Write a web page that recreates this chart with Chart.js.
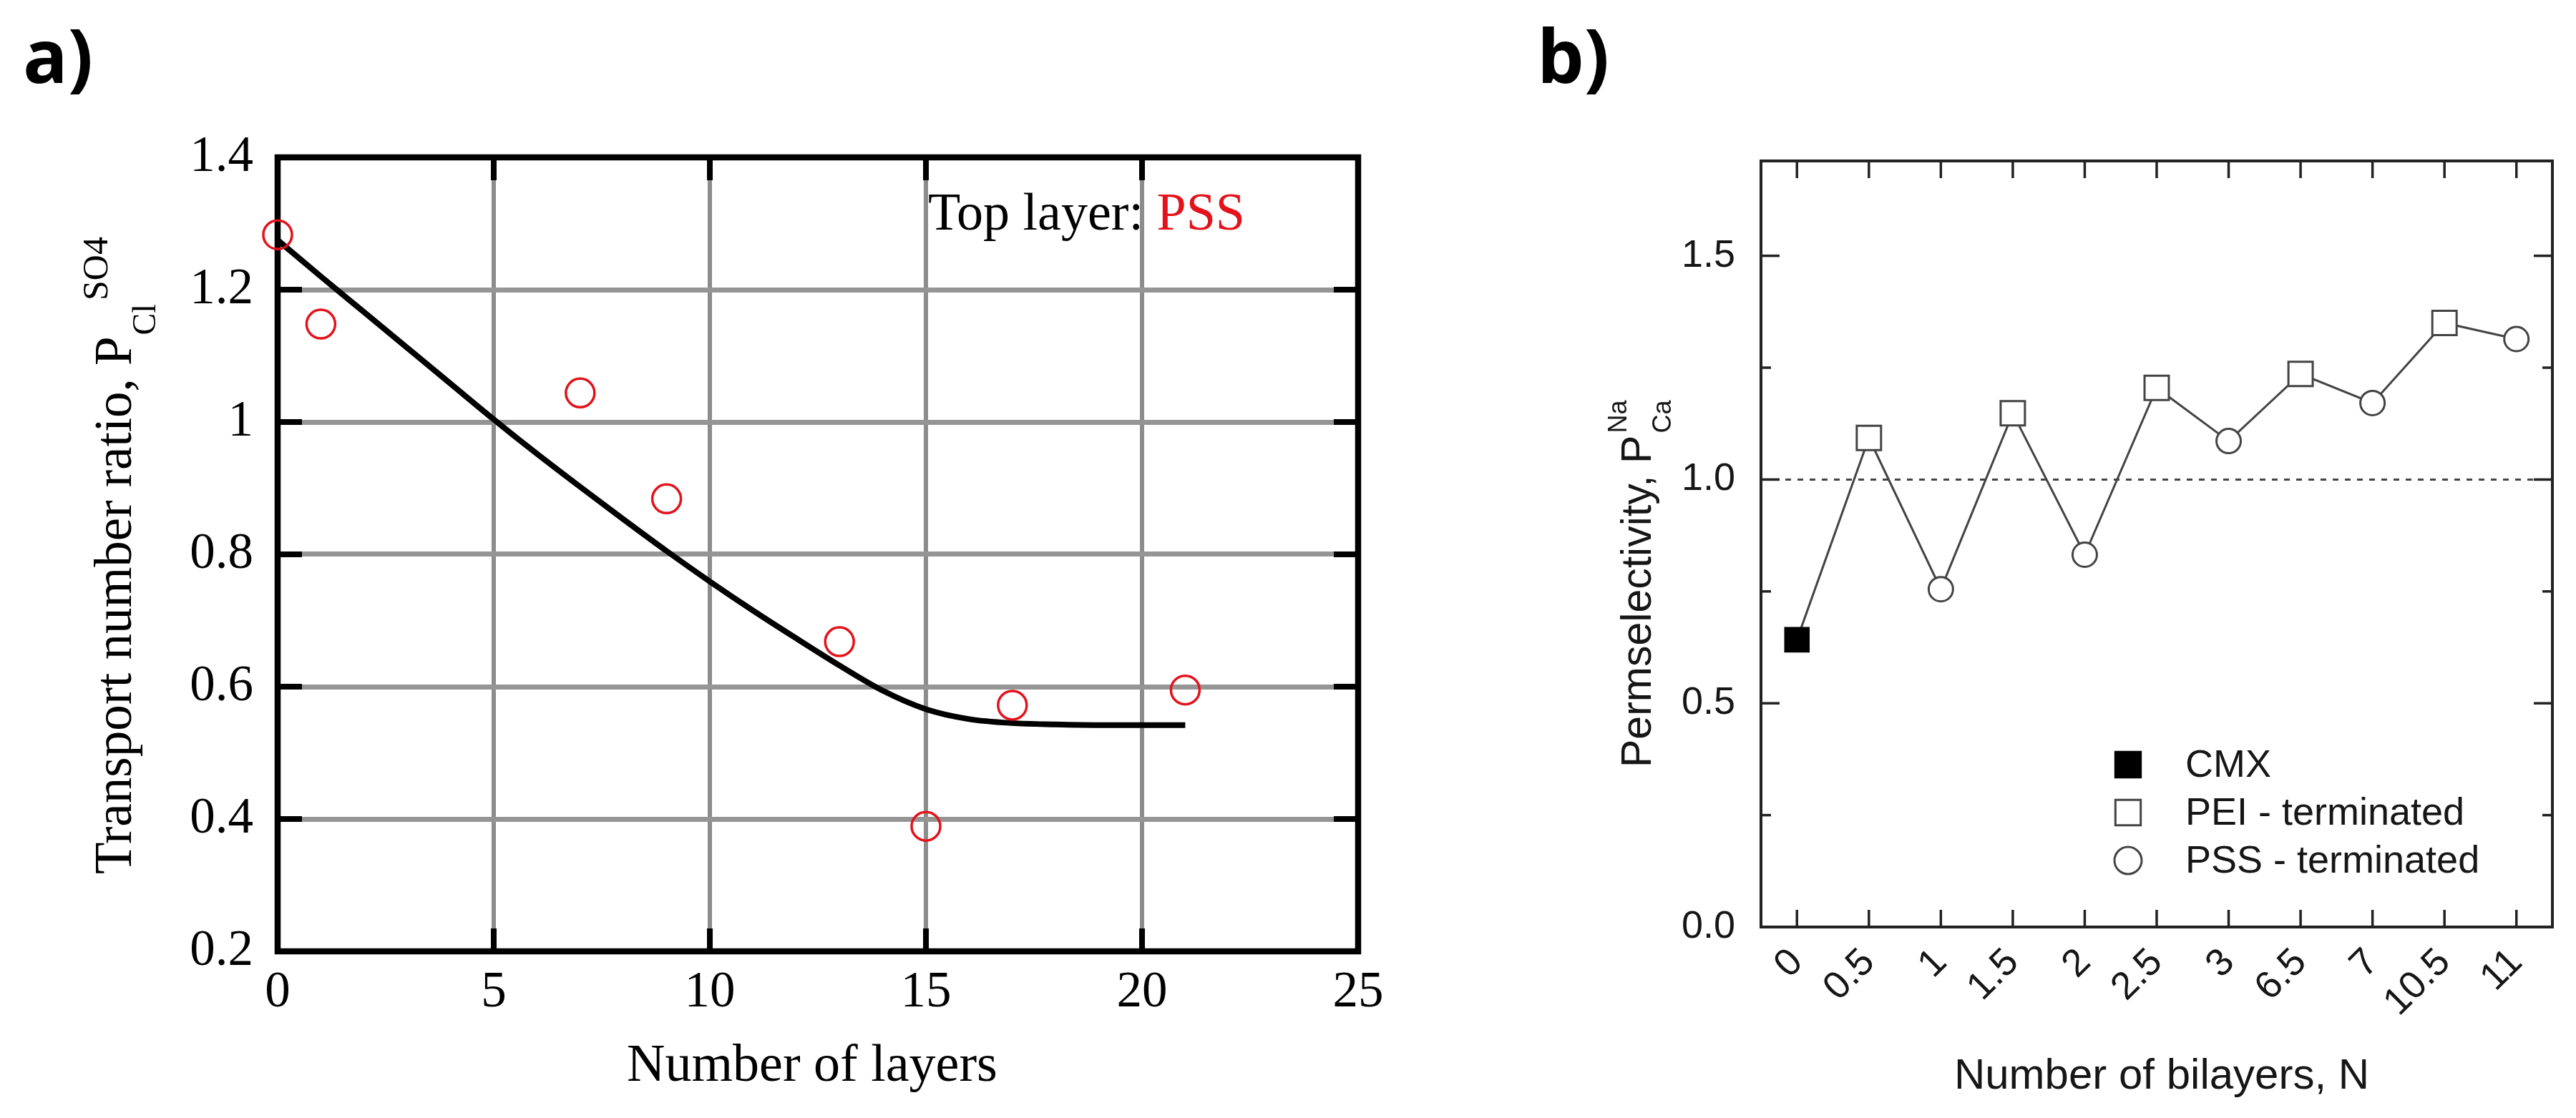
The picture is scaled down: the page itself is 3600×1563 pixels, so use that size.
<!DOCTYPE html>
<html>
<head>
<meta charset="utf-8">
<script src="https://cdn.jsdelivr.net/npm/chart.js@4.4.1/dist/chart.umd.min.js"></script>
<style>
  html, body { margin: 0; padding: 0; background: #fff; }
  #wrap { position: relative; width: 3600px; height: 1563px; overflow: hidden; background: #fff; }
  #wrap canvas { position: absolute; top: 0; }
  #chartA { left: 0; }
  #chartB { left: 2000px; }
</style>
</head>
<body>
<div id="wrap">
  <canvas id="chartA" width="2000" height="1563"></canvas>
  <canvas id="chartB" width="1600" height="1563"></canvas>
</div>
<script>
// ---- panel a : transport number ratio vs number of layers ----
const layersA = [0, 1, 7, 9, 13, 15, 17, 21];
const ratioA = [1.283, 1.148, 1.044, 0.884, 0.668, 0.389, 0.572, 0.595];

// fitted curve at each layer
const fitLayers = [0, 1, 2, 3, 4, 5, 6, 7, 8, 9, 10, 11, 12, 13, 14, 15, 16, 17, 18, 19, 20, 21];
const fitRatio = [1.275, 1.220, 1.166, 1.112, 1.058, 1.004, 0.952, 0.902, 0.853, 0.805, 0.759,
                  0.715, 0.673, 0.632, 0.594, 0.566, 0.551, 0.545, 0.543, 0.542, 0.542, 0.542];

const xTicksA = [0, 5, 10, 15, 20, 25];
const xTickLabelsA = ['0', '5', '10', '15', '20', '25'];
const yTicksA = [0.2, 0.4, 0.6, 0.8, 1.0, 1.2, 1.4];
const yTickLabelsA = ['0.2', '0.4', '0.6', '0.8', '1', '1.2', '1.4'];

// ---- panel b : permselectivity vs number of bilayers ----
const bilayers = ['0', '0.5', '1', '1.5', '2', '2.5', '3', '6.5', '7', '10.5', '11'];
const permselectivity = [0.642, 1.093, 0.755, 1.148, 0.832, 1.205, 1.086, 1.236, 1.171, 1.350, 1.314];
const termination = ['CMX', 'PEI', 'PSS', 'PEI', 'PSS', 'PEI', 'PSS', 'PEI', 'PSS', 'PEI', 'PSS'];
const seriesB = ['CMX', 'PEI', 'PSS'];
const legendB = ['CMX', 'PEI - terminated', 'PSS - terminated'];
const yTicksB = [0, 0.25, 0.5, 0.75, 1.0, 1.25, 1.5];
const yTickLabelsB = ['0.0', '', '0.5', '', '1.0', '', '1.5'];
const referenceLevel = 1.0;

const SERIF = '"Liberation Serif", "Times New Roman", serif';
const SANS = '"Liberation Sans", Arial, sans-serif';
const RED = '#e3121b';
const INK_B = '#161616';

function strokeLine(ctx, x1, y1, x2, y2) {
  ctx.beginPath();
  ctx.moveTo(x1, y1);
  ctx.lineTo(x2, y2);
  ctx.stroke();
}

function drawMarker(ctx, style, x, y, r, fill, stroke, lw) {
  ctx.beginPath();
  if (style === 'rect') {
    const s = r * Math.SQRT1_2;
    ctx.rect(x - s, y - s, 2 * s, 2 * s);
  } else {
    ctx.arc(x, y, r, 0, Math.PI * 2);
  }
  ctx.fillStyle = fill;
  ctx.fill();
  ctx.lineWidth = lw;
  ctx.strokeStyle = stroke;
  ctx.stroke();
}

// frame, inner ticks and texts of panel a
const decorA = {
  id: 'decorA',
  beforeDatasetsDraw(chart) {
    const { ctx, chartArea: a, scales: { x, y } } = chart;
    ctx.save();
    ctx.strokeStyle = '#000';
    ctx.lineWidth = 8;
    xTicksA.forEach(v => {
      const px = x.getPixelForValue(v);
      strokeLine(ctx, px, a.bottom, px, a.bottom - 32);
      strokeLine(ctx, px, a.top, px, a.top + 32);
    });
    yTicksA.forEach(v => {
      const py = y.getPixelForValue(v);
      strokeLine(ctx, a.left, py, a.left + 34, py);
      strokeLine(ctx, a.right, py, a.right - 34, py);
    });
    ctx.lineWidth = 8.5;
    ctx.strokeRect(a.left, a.top, a.right - a.left, a.bottom - a.top);
    ctx.restore();
  },
  afterDraw(chart) {
    const { ctx } = chart;
    ctx.save();
    ctx.textBaseline = 'alphabetic';

    // panel letter
    ctx.fillStyle = '#000';
    ctx.font = 'bold 104px "Open Sans", "Noto Sans", sans-serif';
    ctx.textAlign = 'left';
    ctx.fillText('a)', 32, 116);

    // annotation
    ctx.font = '74px ' + SERIF;
    const t1 = 'Top layer: ';
    ctx.fillText(t1, 1297, 321);
    ctx.fillStyle = RED;
    ctx.fillText('PSS', 1297 + ctx.measureText(t1).width, 321);

    // x title
    ctx.fillStyle = '#000';
    ctx.textAlign = 'center';
    ctx.font = '74px ' + SERIF;
    ctx.fillText('Number of layers', 1135, 1511);

    // y title with sub/superscript
    ctx.translate(183, 1222);
    ctx.rotate(-Math.PI / 2);
    ctx.textAlign = 'left';
    ctx.font = '73px ' + SERIF;
    const main = 'Transport number ratio, P';
    ctx.fillText(main, 0, 0);
    let w = ctx.measureText(main).width + 2;
    ctx.font = '46px ' + SERIF;
    ctx.fillText('Cl', w, 34);
    w += ctx.measureText('Cl').width + 5;
    ctx.font = '50px ' + SERIF;
    ctx.fillText('SO4', w, -33);
    ctx.restore();
  }
};

// frame, ticks, reference line, legend and texts of panel b
const decorB = {
  id: 'decorB',
  beforeDatasetsDraw(chart) {
    const { ctx, chartArea: a, scales: { x, y } } = chart;
    ctx.save();
    ctx.strokeStyle = '#444';
    ctx.lineWidth = 3;
    ctx.setLineDash([8, 9]);
    const yr = y.getPixelForValue(referenceLevel);
    strokeLine(ctx, a.left, yr, a.right, yr);
    ctx.setLineDash([]);

    ctx.strokeStyle = '#222';
    ctx.lineWidth = 3.5;
    bilayers.forEach((c, i) => {
      const px = x.getPixelForTick(i);
      strokeLine(ctx, px, a.bottom, px, a.bottom - 24);
      strokeLine(ctx, px, a.top, px, a.top + 24);
    });
    yTicksB.forEach((v, i) => {
      const py = y.getPixelForValue(v);
      const len = yTickLabelsB[i] ? 26 : 14;
      strokeLine(ctx, a.left, py, a.left + len, py);
      strokeLine(ctx, a.right, py, a.right - len, py);
    });
    ctx.lineWidth = 4;
    ctx.strokeRect(a.left, a.top, a.right - a.left, a.bottom - a.top);
    ctx.restore();
  },
  afterDraw(chart) {
    const { ctx } = chart;
    ctx.save();

    // legend
    const rows = [1069, 1136, 1203];
    chart.data.datasets.forEach(ds => {
      const k = legendB.indexOf(ds.label);
      if (k < 0) return;
      const r = ds.pointStyle === 'rect' ? 25 : 19;
      drawMarker(ctx, ds.pointStyle, 974, rows[k], r, ds.pointBackgroundColor, ds.pointBorderColor, 3);
      ctx.fillStyle = INK_B;
      ctx.font = '54px ' + SANS;
      ctx.textAlign = 'left';
      ctx.textBaseline = 'middle';
      ctx.fillText(ds.label, 1054, rows[k] + 2);
    });

    ctx.textBaseline = 'alphabetic';
    // panel letter
    ctx.fillStyle = '#000';
    ctx.font = 'bold 104px "Open Sans", "Noto Sans", sans-serif';
    ctx.textAlign = 'left';
    ctx.fillText('b)', 148, 116);

    // x title
    ctx.fillStyle = INK_B;
    ctx.textAlign = 'center';
    ctx.font = '60px ' + SANS;
    ctx.fillText('Number of bilayers, N', 1021, 1522);

    // y title with stacked sub/superscript
    ctx.translate(307, 1073);
    ctx.rotate(-Math.PI / 2);
    ctx.textAlign = 'left';
    ctx.font = '59px ' + SANS;
    const main = 'Permselectivity, P';
    ctx.fillText(main, 0, 0);
    const w = ctx.measureText(main).width + 3;
    ctx.font = '36px ' + SANS;
    ctx.fillText('Na', w, -34);
    ctx.fillText('Ca', w, 28);
    ctx.restore();
  }
};

new Chart(document.getElementById('chartA'), {
  type: 'line',
  data: {
    datasets: [
      {
        label: 'measured',
        data: layersA.map((v, i) => ({ x: v, y: ratioA[i] })),
        showLine: false,
        pointStyle: 'circle',
        pointRadius: 20,
        pointBorderWidth: 3.5,
        pointBorderColor: RED,
        pointBackgroundColor: 'rgba(0,0,0,0)',
        clip: false,
        order: 1
      },
      {
        label: 'fit',
        data: fitLayers.map((v, i) => ({ x: v, y: fitRatio[i] })),
        borderColor: '#000',
        borderWidth: 8,
        pointRadius: 0,
        cubicInterpolationMode: 'monotone',
        clip: false,
        order: 2
      }
    ]
  },
  options: {
    responsive: false,
    animation: false,
    devicePixelRatio: 1,
    layout: { autoPadding: false, padding: { left: 0, top: 220, right: 102, bottom: 0 } },
    plugins: { legend: { display: false }, tooltip: { enabled: false } },
    scales: {
      x: {
        type: 'linear',
        min: 0,
        max: 25,
        afterBuildTicks: s => { s.ticks = xTicksA.map(v => ({ value: v })); },
        afterFit: s => { s.height = 233; },
        grid: { color: '#8c8c8c', lineWidth: 6, drawTicks: false },
        border: { display: false },
        ticks: {
          padding: 16,
          color: '#000',
          font: { family: SERIF, size: 71 },
          callback: (v, i) => xTickLabelsA[i]
        }
      },
      y: {
        type: 'linear',
        min: 0.2,
        max: 1.4,
        afterBuildTicks: s => { s.ticks = yTicksA.map(v => ({ value: v })); },
        afterFit: s => { s.width = 388; },
        grid: { color: '#959595', lineWidth: 7, drawTicks: false },
        border: { display: false },
        ticks: {
          padding: 34,
          color: '#000',
          font: { family: SERIF, size: 71 },
          callback: (v, i) => yTickLabelsA[i]
        }
      }
    }
  },
  plugins: [decorA]
});

new Chart(document.getElementById('chartB'), {
  type: 'line',
  data: {
    labels: bilayers,
    datasets: [
      ...seriesB.map((s, k) => ({
        label: legendB[k],
        data: permselectivity.map((v, i) => (termination[i] === s ? v : null)),
        showLine: false,
        pointStyle: s === 'PSS' ? 'circle' : 'rect',
        pointRadius: s === 'PSS' ? 17 : (s === 'CMX' ? 23 : 24),
        pointBorderWidth: 3,
        pointBackgroundColor: s === 'CMX' ? '#000' : '#fff',
        pointBorderColor: s === 'CMX' ? '#000' : '#444',
        order: 1
      })),
      {
        label: 'trace',
        data: permselectivity,
        borderColor: '#444',
        borderWidth: 3,
        pointRadius: 0,
        tension: 0,
        order: 2
      }
    ]
  },
  options: {
    responsive: false,
    animation: false,
    devicePixelRatio: 1,
    layout: { autoPadding: false, padding: { left: 0, top: 225, right: 33, bottom: 0 } },
    plugins: { legend: { display: false }, tooltip: { enabled: false } },
    scales: {
      x: {
        type: 'category',
        offset: true,
        afterFit: s => { s.height = 267; },
        grid: { display: false },
        border: { display: false },
        ticks: {
          autoSkip: false,
          minRotation: 45,
          maxRotation: 45,
          padding: 10,
          color: INK_B,
          font: { family: SANS, size: 54 }
        }
      },
      y: {
        type: 'linear',
        min: 0,
        max: 1.712,
        afterBuildTicks: s => { s.ticks = yTicksB.map(v => ({ value: v })); },
        afterFit: s => { s.width = 461; },
        grid: { display: false },
        border: { display: false },
        ticks: {
          padding: 28,
          color: INK_B,
          font: { family: SANS, size: 54 },
          callback: (v, i) => yTickLabelsB[i]
        }
      }
    }
  },
  plugins: [decorB]
});
</script>
</body>
</html>
